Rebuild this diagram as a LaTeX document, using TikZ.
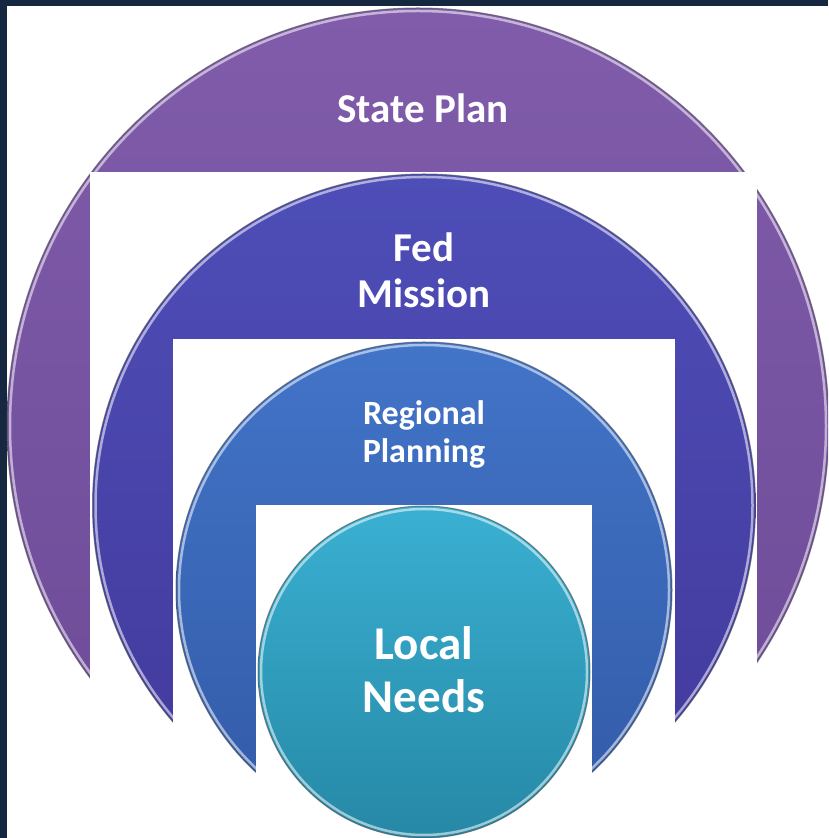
\documentclass[tikz,border=0pt]{standalone}
\usepackage{fontspec}
\setmainfont{Carlito}
\definecolor{navy}{RGB}{22,40,64}
\definecolor{stateTop}{RGB}{128,92,170}
\definecolor{stateBot}{RGB}{108,74,150}
\definecolor{fedTop}{RGB}{78,78,184}
\definecolor{fedBot}{RGB}{66,56,154}
\definecolor{regTop}{RGB}{66,116,200}
\definecolor{regBot}{RGB}{50,90,166}
\definecolor{locTop}{RGB}{58,176,210}
\definecolor{locBot}{RGB}{38,136,166}
\begin{document}
\begin{tikzpicture}[
	x=1pt,
	y=1pt,
	line join=round,
	line cap=round,
	rim/.style={white, opacity=.55, line width=2.5},
	edge/.style={black!70, opacity=.6, line width=1},
	label/.style={text=white, align=center, inner sep=0pt, anchor=base},
	]
\useasboundingbox (0,0) rectangle (828,838);
\clip (0,0) rectangle (828,838);
\fill[navy] (0,0) rectangle (828,838);
\fill[white] (7,0) rectangle (828,832);
% outer ring
\coordinate (s) at (418,412);
\shade[top color=stateTop, bottom color=stateBot] (s) ellipse (411 and 418);
\draw[rim] (s) ellipse (408 and 415);
\draw[edge] (s) ellipse (411 and 418);
\fill[white] (90,0) rectangle (757,666);
% the three inner circles, each followed by its white cut
\foreach \c/\r/\top/\bot/\xa/\xb/\yb in {332.5/331.5/fedTop/fedBot/173/675/499,
	248/248/regTop/regBot/256/592/333,
	166/166/locTop/locBot/0/0/0}
	{
	\coordinate (c) at (424,\c);
	\shade[top color=\top, bottom color=\bot] (c) circle (\r);
	\draw[rim] (c) circle (\r-3);
	\draw[edge] (c) circle (\r);
	\fill[white] (\xa,0) rectangle (\xb,\yb);
	}
\node[label, font=\fontsize{41}{45}\selectfont\bfseries] (state) at (423,715) {State Plan};
\node[label, font=\fontsize{41}{46}\selectfont\bfseries] (fed) at (424,530) {Fed\\Mission};
\node[label, font=\fontsize{34}{38}\selectfont\bfseries] (regional) at (424,375) {Regional\\Planning};
\node[label, font=\fontsize{47}{53}\selectfont\bfseries] (local) at (424,125) {Local\\Needs};
\end{tikzpicture}
\end{document}
